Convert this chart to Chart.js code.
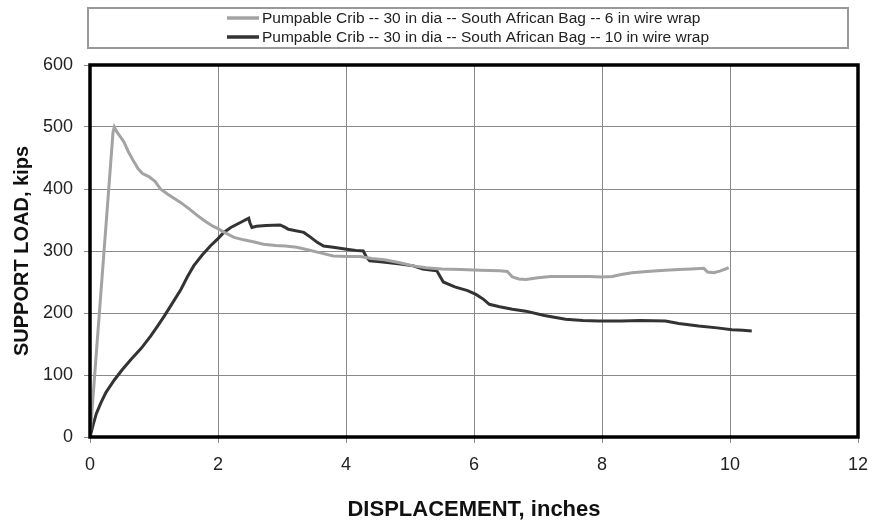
<!DOCTYPE html>
<html>
<head>
<meta charset="utf-8">
<script src="https://cdn.jsdelivr.net/npm/chart.js"></script>
<style>
  html, body { margin: 0; padding: 0; background: #fff; }
  #wrap { width: 885px; height: 523px; position: relative; }
</style>
</head>
<body>
<div id="wrap"><canvas id="cribChart"></canvas></div>
<script>
// series labels
const seriesNames = [
  'Pumpable Crib -- 30 in dia -- South African Bag -- 6 in wire wrap',
  'Pumpable Crib -- 30 in dia -- South African Bag -- 10 in wire wrap'
];

// 6 in wire wrap: displacement (in) and load (kips)
const wrap6X = [0, 0.36, 0.38, 0.42, 0.47, 0.53, 0.60, 0.68, 0.75, 0.82, 0.92, 1.02,
  1.10, 1.21, 1.30, 1.42, 1.55, 1.68, 1.80, 1.92, 2.00, 2.10, 2.25, 2.40, 2.55, 2.71, 2.90, 3.05, 3.23, 3.40, 3.60,
  3.80, 4.00, 4.22, 4.40, 4.60, 4.84, 5.05, 5.25, 5.50, 5.80, 6.10, 6.40, 6.52, 6.60, 6.70, 6.81, 7.00, 7.20, 7.50,
  7.80, 8.00, 8.16, 8.30, 8.47, 8.70, 8.99, 9.20, 9.40, 9.59, 9.65, 9.75, 9.85, 9.98];
const wrap6Y = [0, 492, 500, 492, 485, 476, 460, 445, 433, 425, 420, 412,
  400, 392, 386, 378, 368, 357, 348, 340, 336, 330, 322, 318, 315, 311, 309, 308, 306, 302, 297,
  292, 291, 291, 288, 286, 281, 276, 273, 271, 270, 269, 268, 267, 258, 255, 254, 257, 259, 259,
  259, 258, 259, 262, 265, 267, 269, 270, 271, 272, 266, 265, 268, 273];

// 10 in wire wrap
const wrap10X = [0, 0.05, 0.10, 0.17, 0.25, 0.38, 0.50, 0.64, 0.80, 0.95, 1.05, 1.16, 1.30, 1.42, 1.52, 1.62, 1.75,
  1.88, 2.00, 2.09, 2.20, 2.35, 2.48, 2.50, 2.53, 2.60, 2.75, 2.97, 3.05, 3.10, 3.34, 3.45, 3.55, 3.65, 3.80, 4.01,
  4.15, 4.27, 4.32, 4.37, 4.50, 4.68, 4.85, 5.05, 5.20, 5.35, 5.42, 5.52, 5.70, 5.90, 6.03, 6.15, 6.24, 6.40, 6.60,
  6.81, 7.10, 7.43, 7.70, 7.95, 8.30, 8.60, 8.99, 9.20, 9.51, 9.80, 10.03, 10.20, 10.34];
const wrap10Y = [0, 20, 38, 55, 72, 92, 108, 125, 143, 163, 178, 195, 218, 238, 258, 276, 293,
  308, 320, 330, 338, 346, 353, 345, 338, 340, 341, 342, 338, 335, 330, 322, 314, 308, 306, 303,
  301, 300, 290, 284, 283, 281, 279, 276, 271, 269, 268, 250, 242, 236, 230, 222, 214, 210, 206,
  203, 196, 190, 188, 187, 187, 188, 187, 183, 179, 176, 173, 172, 171];

const xTicks = [0, 2, 4, 6, 8, 10, 12];
const yTicks = [0, 100, 200, 300, 400, 500, 600];

const toPoints = (xs, ys) => xs.map((x, i) => ({ x: x, y: ys[i] }));
const FONT = "'Liberation Sans', Arial, sans-serif";

// frame round the plot area
const framePlugin = {
  id: 'frame',
  afterDatasetsDraw(chart) {
    const a = chart.chartArea;
    const ctx = chart.ctx;
    ctx.save();
    ctx.strokeStyle = '#000';
    ctx.lineWidth = 3.5;
    ctx.strokeRect(a.left, a.top, a.right - a.left, a.bottom - a.top);
    ctx.restore();
  }
};

// boxed legend at the top
const legendBox = {
  id: 'legendBox',
  afterDraw(chart) {
    const ctx = chart.ctx;
    ctx.save();
    ctx.strokeStyle = '#999';
    ctx.lineWidth = 2;
    ctx.strokeRect(88, 8, 760, 40);
    const rows = [18, 37];
    chart.data.datasets.forEach((ds, i) => {
      ctx.strokeStyle = ds.borderColor;
      ctx.lineWidth = 3.5;
      ctx.beginPath();
      ctx.moveTo(227, rows[i]);
      ctx.lineTo(259, rows[i]);
      ctx.stroke();
      ctx.fillStyle = '#222';
      ctx.font = '15.5px ' + FONT;
      ctx.textBaseline = 'middle';
      ctx.fillText(ds.label, 262, rows[i] + 1);
    });
    ctx.restore();
  }
};

new Chart(document.getElementById('cribChart'), {
  type: 'scatter',
  data: {
    datasets: [
      {
        label: seriesNames[0],
        data: toPoints(wrap6X, wrap6Y),
        showLine: true,
        borderColor: '#a3a3a3',
        borderWidth: 3,
        pointRadius: 0,
        tension: 0
      },
      {
        label: seriesNames[1],
        data: toPoints(wrap10X, wrap10Y),
        showLine: true,
        borderColor: '#333333',
        borderWidth: 3,
        pointRadius: 0,
        tension: 0
      }
    ]
  },
  options: {
    responsive: true,
    maintainAspectRatio: false,
    animation: false,
    layout: { padding: { top: 65, right: 27, bottom: 0, left: 0 } },
    plugins: {
      legend: { display: false },
      tooltip: { enabled: false }
    },
    scales: {
      x: {
        type: 'linear',
        min: 0,
        max: 12,
        afterBuildTicks: s => { s.ticks = xTicks.map(v => ({ value: v })); },
        afterFit: s => { s.height = 86; },
        grid: { color: '#8a8a8a', lineWidth: 1, tickLength: 6 },
        border: { display: false },
        ticks: { color: '#222', font: { family: FONT, size: 18 }, padding: 11 },
        title: {
          display: true,
          text: 'DISPLACEMENT, inches',
          color: '#111',
          font: { family: FONT, size: 22, weight: 'bold' },
          padding: { top: 0, bottom: 0 }
        }
      },
      y: {
        type: 'linear',
        min: 0,
        max: 600,
        afterBuildTicks: s => { s.ticks = yTicks.map(v => ({ value: v })); },
        afterFit: s => { s.width = 90; },
        grid: { color: '#8a8a8a', lineWidth: 1, tickLength: 6 },
        border: { display: false },
        ticks: { color: '#222', font: { family: FONT, size: 18 }, padding: 11 },
        title: {
          display: true,
          text: 'SUPPORT LOAD, kips',
          color: '#111',
          font: { family: FONT, size: 20, weight: 'bold' },
          padding: { top: 10, bottom: 0 }
        }
      }
    }
  },
  plugins: [framePlugin, legendBox]
});
</script>
</body>
</html>
